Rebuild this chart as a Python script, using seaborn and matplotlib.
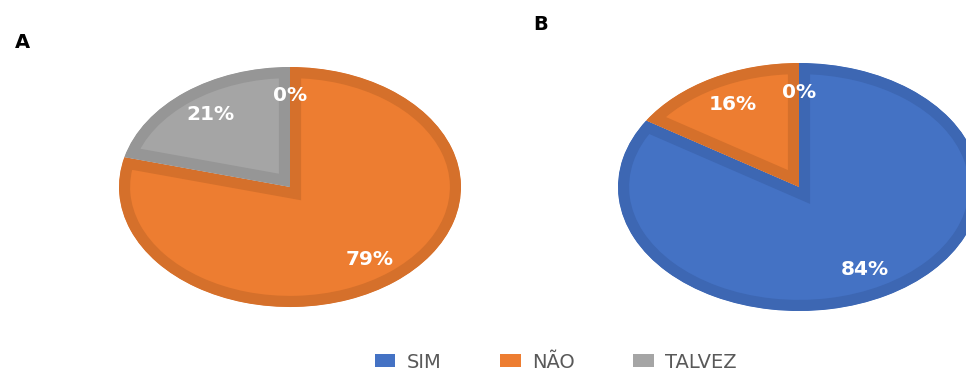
import matplotlib
matplotlib.use("Agg")
import matplotlib.pyplot as plt
from matplotlib.patches import Patch
import seaborn as sns

sns.set_theme(style="white")
plt.rcParams["font.family"] = ["DejaVu Sans"]

categories = ["SIM", "NÃO", "TALVEZ"]
values_a = [0, 79, 21]
values_b = [84, 16, 0]
panel_titles = ["A", "B"]

fill_colors = ["#4472C4", "#ED7D31", "#A5A5A5"]
edge_colors = ["#3D67B3", "#D5702B", "#969696"]

W, H = 966, 374
fig = plt.figure(figsize=(W / 100, H / 100), dpi=100)

PAD = 1.05


def pie_axes(cx, cy, rx, ry):
    left = (cx - rx * PAD) / W
    bottom = (H - cy - ry * PAD) / H
    return fig.add_axes([left, bottom, 2 * rx * PAD / W, 2 * ry * PAD / H])


def draw_pie(ax, values):
    wedges, texts, autotexts = ax.pie(
        values,
        colors=fill_colors,
        startangle=90,
        counterclock=False,
        autopct="%1.0f%%",
        pctdistance=0.76,
        radius=1.0,
        wedgeprops=dict(linewidth=16),
        textprops=dict(color="white", fontsize=14.5, fontweight="bold"),
    )
    # stroke only the inner half of each outline, so borders sit inside wedges
    for w, ec in zip(wedges, edge_colors):
        w.set_edgecolor(ec)
        w.set_clip_on(True)
        w.set_clip_path(w)
    ax.set_aspect("auto")
    ax.set_xlim(-PAD, PAD)
    ax.set_ylim(-PAD, PAD)
    ax.axis("off")


ax_a = pie_axes(290, 187, 171, 120)
draw_pie(ax_a, values_a)
ax_b = pie_axes(799, 187, 181, 124)
draw_pie(ax_b, values_b)

fig.text(22 / W, 1 - 42 / H, panel_titles[0], fontsize=14, fontweight="bold",
         color="black", ha="center", va="center")
fig.text(541 / W, 1 - 25 / H, panel_titles[1], fontsize=14, fontweight="bold",
         color="black", ha="center", va="center")

handles = [Patch(facecolor=c, edgecolor="none") for c in fill_colors]
fig.legend(handles, categories, loc="center", bbox_to_anchor=(556 / W, 1 - 362 / H),
           ncol=3, frameon=False, fontsize=14, handlelength=1.05, handleheight=0.62,
           handletextpad=0.6, columnspacing=3.0, labelcolor="#595959")

fig.savefig("out.png", dpi=100)
